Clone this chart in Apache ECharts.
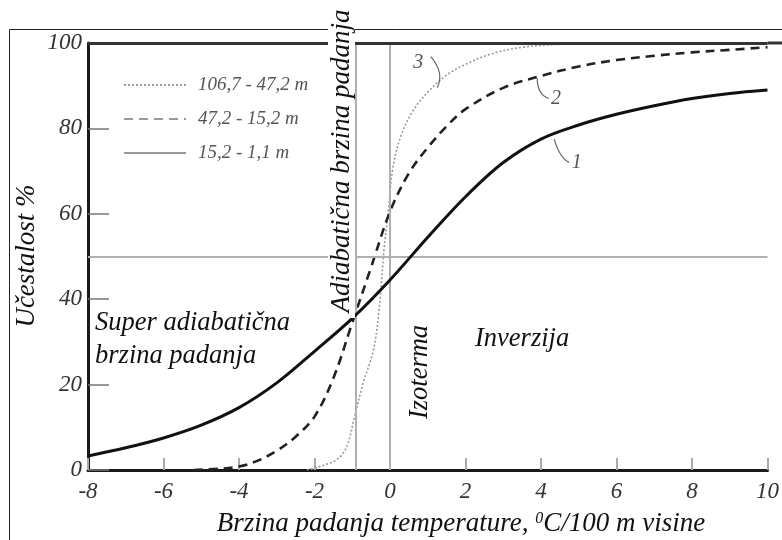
<!DOCTYPE html>
<html>
<head>
<meta charset="utf-8">
<script src="https://cdn.jsdelivr.net/npm/echarts@6/dist/echarts.min.js"></script>
<style>html,body{margin:0;padding:0;background:#fff}#c{width:782px;height:540px}</style>
</head>
<body>
<div id="c"></div>
<script>
// ---- data ----
const seriesNames = ['106,7 - 47,2 m', '47,2 - 15,2 m', '15,2 - 1,1 m'];
const xTicks = [-8, -6, -4, -2, 0, 2, 4, 6, 8, 10];
const yTicks = [0, 20, 40, 60, 80, 100];

// curve 3 (dotted): 106,7 - 47,2 m
const x3 = [-2.2, -1.9, -1.4, -1.15, -0.94, -0.71, -0.44, -0.29, -0.16, -0.05, 0.08, 0.3, 0.6, 1.0, 1.5, 2.0, 2.7, 3.5, 4.5, 5.5];
const y3 = [0, 0.7, 2.5, 5.4, 12.4, 20.4, 28, 37.5, 51.5, 60, 71, 78.5, 84, 88.5, 92.5, 95, 97.5, 99, 99.7, 100];

// curve 2 (dashed): 47,2 - 15,2 m
const x2 = [-5.2, -4.5, -4, -3.5, -3, -2.5, -2, -1.5, -1, -0.5, 0, 0.5, 1, 1.5, 2, 3, 4, 5, 6, 7, 8, 9, 10];
const y2 = [0, 0.3, 0.8, 2.2, 4.5, 7.8, 12.5, 21.5, 34.5, 47.5, 60.5, 69.5, 75.5, 80.5, 84.5, 89.5, 92.3, 94.5, 96, 97, 97.8, 98.4, 99];

// curve 1 (solid): 15,2 - 1,1 m
const x1 = [-8, -7, -6, -5, -4, -3, -2, -1, 0, 1, 2, 3, 4, 5, 6, 7, 8, 9, 10];
const y1 = [3.3, 5.2, 7.5, 10.5, 14.6, 20.4, 27.8, 35.5, 44.5, 54.5, 64, 72, 77.5, 80.8, 83.3, 85.3, 87, 88.2, 89];

const refLines = { horizontal: 50, isotherm: 0, adiabatic: -0.9, top: 100 };
// -------------------------------------

const SERIF = '"Liberation Serif", "DejaVu Serif", serif';
const zip = (xs, ys) => xs.map((x, i) => [x, ys[i]]);
const tickLabel = { fontFamily: 'Liberation Serif', fontStyle: 'italic', fontSize: 23, color: '#333' };

const chart = echarts.init(document.getElementById('c'));
chart.setOption({
  animation: false,
  backgroundColor: '#fff',
  grid: { left: 88, right: 7, top: 43, bottom: 70 },
  legend: {
    data: seriesNames,
    orient: 'vertical',
    left: 118, top: 69,
    itemWidth: 62, itemHeight: 14, itemGap: 12,
    itemStyle: { opacity: 0 },
    lineStyle: { color: '#9a9a9a' },
    textStyle: { fontFamily: SERIF, fontStyle: 'italic', fontSize: 19, color: '#555', lineHeight: 22, padding: [0, 0, 0, 7] },
    selectedMode: false
  },
  xAxis: {
    type: 'value', min: xTicks[0], max: xTicks[xTicks.length - 1], interval: 2,
    axisLine: { lineStyle: { color: '#1a1a1a', width: 3 } },
    axisTick: { inside: true, length: 12, lineStyle: { color: '#aaa', width: 2 } },
    axisLabel: Object.assign({ margin: 10 }, tickLabel),
    splitLine: { show: false }
  },
  yAxis: {
    type: 'value', min: yTicks[0], max: yTicks[yTicks.length - 1], interval: 20,
    axisLine: { show: true, onZero: false, lineStyle: { color: '#1a1a1a', width: 3 } },
    axisTick: { show: true, inside: true, length: 21, lineStyle: { color: '#777', width: 1.5 } },
    axisLabel: Object.assign({ margin: 6 }, tickLabel),
    splitLine: { show: false }
  },
  series: [
    {
      name: seriesNames[0], type: 'line', smooth: 0.35, symbol: 'none',
      data: zip(x3, y3),
      itemStyle: { color: '#9a9a9a' },
      lineStyle: { color: '#9a9a9a', width: 1.6, type: [2, 2] },
      z: 3,
      markLine: {
        silent: true, symbol: 'none', label: { show: false },
        lineStyle: { color: '#b0b0b0', width: 2, type: 'solid' },
        data: [{ yAxis: refLines.horizontal }, { xAxis: refLines.isotherm }, { xAxis: refLines.adiabatic }]
      }
    },
    {
      name: seriesNames[1], type: 'line', smooth: 0.35, symbol: 'none',
      data: zip(x2, y2),
      itemStyle: { color: '#222' },
      lineStyle: { color: '#222', width: 2.6, type: [9, 6] },
      z: 4,
      markLine: {
        silent: true, symbol: 'none', label: { show: false },
        lineStyle: { color: '#333', width: 3, type: 'solid' },
        data: [{ yAxis: refLines.top }]
      }
    },
    {
      name: seriesNames[2], type: 'line', smooth: 0.35, symbol: 'none',
      data: zip(x1, y1),
      itemStyle: { color: '#111' },
      lineStyle: { color: '#111', width: 3 },
      z: 5
    }
  ]
});

const P = (x, y) => chart.convertToPixel({ gridIndex: 0 }, [x, y]);
const txt = (text, x, y, size, opts) => Object.assign({
  type: 'text', x: x, y: y, z: 120,
  style: Object.assign({ text: text, font: 'italic ' + size + 'px ' + SERIF, fill: '#111', align: 'left', verticalAlign: 'middle' }, (opts && opts.style) || {})
}, (opts && opts.el) || {});

// curve number labels and their leader strokes, anchored in data space
const curveLabels = [
  { t: '3', at: [0.75, 95.3], from: [1.08, 96.8], ctrl: [1.45, 93], to: [1.25, 89.5] },
  { t: '2', at: [4.4, 87], from: [3.9, 91.8], ctrl: [3.9, 88], to: [4.2, 87] },
  { t: '1', at: [4.95, 72], from: [4.35, 77.5], ctrl: [4.5, 73], to: [4.75, 72] }
];
const g = [];
g.push({ type: 'rect', z: 1, shape: { x: 9.5, y: 29.5, width: 900, height: 700 }, style: { fill: 'none', stroke: '#222', lineWidth: 1 } });
// extension of the 100 % line to the right edge
const t100 = P(xTicks[xTicks.length - 1], refLines.top);
g.push({ type: 'line', z: 2, shape: { x1: t100[0], y1: t100[1], x2: 782, y2: t100[1] }, style: { stroke: '#333', lineWidth: 3 } });
curveLabels.forEach(c => {
  const a = P(c.at[0], c.at[1]);
  const f = P(c.from[0], c.from[1]), k = P(c.ctrl[0], c.ctrl[1]), e = P(c.to[0], c.to[1]);
  g.push(txt(c.t, a[0], a[1], 20, { style: { fill: '#555', align: 'center' } }));
  g.push({ type: 'bezierCurve', z: 120, shape: { x1: f[0], y1: f[1], cpx1: k[0], cpy1: k[1], x2: e[0], y2: e[1] }, style: { stroke: '#666', lineWidth: 1.2, fill: 'none' } });
});
// white box behind the vertical adiabatic caption
const ad = P(refLines.adiabatic, 35.6);
g.push({ type: 'rect', z: 110, shape: { x: ad[0] - 28, y: 0, width: 27, height: ad[1] }, style: { fill: '#fff' } });
g.push(txt('Adiabatična brzina padanja', ad[0] - 14, ad[1] / 2 + 2, 27, { style: { align: 'center' }, el: { rotation: Math.PI / 2 } }));
g.push(txt('Super adiabatična', 95, 323, 26.5));
g.push(txt('brzina padanja', 95, 356, 26.5));
g.push(txt('Inverzija', 475, 339, 26.5));
g.push(txt('Izoterma', 420, 372, 26.5, { style: { align: 'center' }, el: { rotation: Math.PI / 2 } }));
g.push(txt('Učestalost %', 27, 256, 27, { style: { align: 'center' }, el: { rotation: Math.PI / 2 } }));
g.push({
  type: 'text', x: 461, y: 524, z: 120,
  style: {
    text: '{a|Brzina padanja temperature, }{s|0}{a|C/100 m visine}',
    align: 'center', verticalAlign: 'middle',
    rich: {
      a: { fontFamily: SERIF, fontStyle: 'italic', fontSize: 27, fill: '#111', color: '#111' },
      s: { fontFamily: SERIF, fontStyle: 'italic', fontSize: 16, fill: '#111', color: '#111', verticalAlign: 'top', padding: [0, 0, 10, 0] }
    }
  }
});
chart.setOption({ graphic: g });
</script>
</body>
</html>
